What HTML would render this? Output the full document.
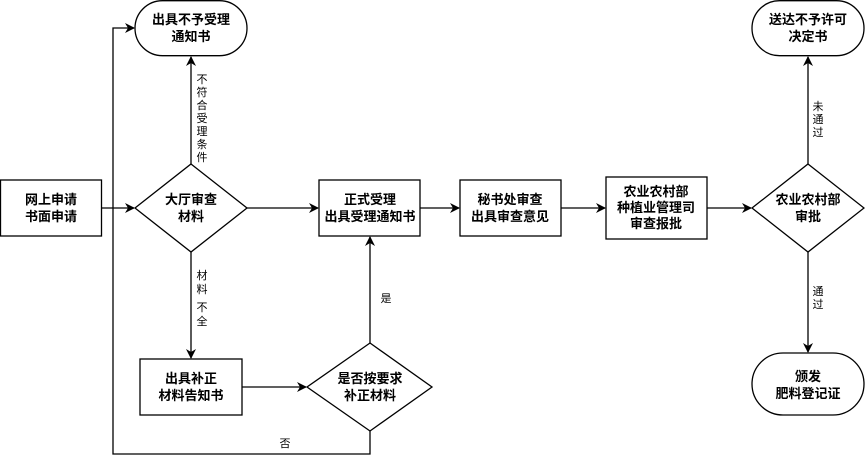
<!DOCTYPE html>
<html><head><meta charset="utf-8"><style>
html,body{margin:0;padding:0;background:#fff;}
svg{display:block;}
text{font-family:"Liberation Sans","Noto Sans CJK SC",sans-serif;fill:#000;}
.n{font-size:13px;font-weight:bold;}
.l{font-size:11px;}
</style></head><body>
<svg width="865" height="464" viewBox="0 0 865 464" xmlns="http://www.w3.org/2000/svg">
<defs><marker id="a" markerWidth="10" markerHeight="10" refX="9" refY="5" orient="auto" markerUnits="userSpaceOnUse"><path d="M0,0 L10,5 L0,10 L3,5 Z" fill="#000"/></marker></defs>
<g fill="none" stroke="#000" stroke-width="1.3">
<rect x="0.5" y="180" width="101" height="56"/>
<rect x="135" y="0.7" width="112" height="55" rx="27.5"/>
<polygon points="191,164 247,208 191,252 135,208"/>
<rect x="319" y="180" width="101" height="56"/>
<rect x="140" y="359" width="102" height="56"/>
<polygon points="370,343 432,387 370,431 307,387"/>
<rect x="460" y="180" width="101" height="56"/>
<rect x="606" y="177" width="101" height="62"/>
<polygon points="808,164 864,208 808,252 752,208"/>
<rect x="752" y="0.7" width="112" height="55" rx="27.5"/>
<rect x="752" y="353" width="112" height="62" rx="31"/>
<line x1="101" y1="208" x2="134" y2="208" marker-end="url(#a)"/>
<line x1="191" y1="164" x2="191" y2="57" marker-end="url(#a)"/>
<line x1="247" y1="208" x2="318" y2="208" marker-end="url(#a)"/>
<line x1="191" y1="252" x2="191" y2="358" marker-end="url(#a)"/>
<line x1="242" y1="387" x2="306" y2="387" marker-end="url(#a)"/>
<line x1="370" y1="343" x2="370" y2="237" marker-end="url(#a)"/>
<polyline points="370,431 370,454 113,454 113,28 134,28" marker-end="url(#a)"/>
<line x1="420" y1="208" x2="459" y2="208" marker-end="url(#a)"/>
<line x1="561" y1="208" x2="605" y2="208" marker-end="url(#a)"/>
<line x1="707" y1="208" x2="751" y2="208" marker-end="url(#a)"/>
<line x1="808" y1="164" x2="808" y2="57" marker-end="url(#a)"/>
<line x1="808" y1="252" x2="808" y2="352" marker-end="url(#a)"/>
</g>
<g class="n" text-anchor="middle">
<text x="51" y="204">网上申请</text><text x="51" y="221">书面申请</text>
<text x="191" y="24">出具不予受理</text><text x="191" y="41">通知书</text>
<text x="191" y="204">大厅审查</text><text x="191" y="221">材料</text>
<text x="370" y="204">正式受理</text><text x="370" y="221">出具受理通知书</text>
<text x="191" y="383">出具补正</text><text x="191" y="400">材料告知书</text>
<text x="370" y="383">是否按要求</text><text x="370" y="400">补正材料</text>
<text x="510" y="204">秘书处审查</text><text x="510" y="221">出具审查意见</text>
<text x="656" y="196">农业农村部</text><text x="656" y="212">种植业管理司</text><text x="656" y="228">审查报批</text>
<text x="808" y="204">农业农村部</text><text x="808" y="221">审批</text>
<text x="808" y="24">送达不予许可</text><text x="808" y="41">决定书</text>
<text x="808" y="381">颁发</text><text x="808" y="398">肥料登记证</text>
</g>
<g class="l" text-anchor="middle">
<text x="202" y="83">不</text><text x="202" y="96">符</text><text x="202" y="109">合</text><text x="202" y="122">受</text><text x="202" y="135">理</text><text x="202" y="148">条</text><text x="202" y="161">件</text>
<text x="202" y="279">材</text><text x="202" y="293">料</text><text x="202" y="311">不</text><text x="202" y="325">全</text>
<text x="386" y="302">是</text>
<text x="285" y="447">否</text>
<text x="818" y="110">未</text><text x="818" y="123">通</text><text x="818" y="136">过</text>
<text x="818" y="295">通</text><text x="818" y="308">过</text>
</g>
</svg>
</body></html>
